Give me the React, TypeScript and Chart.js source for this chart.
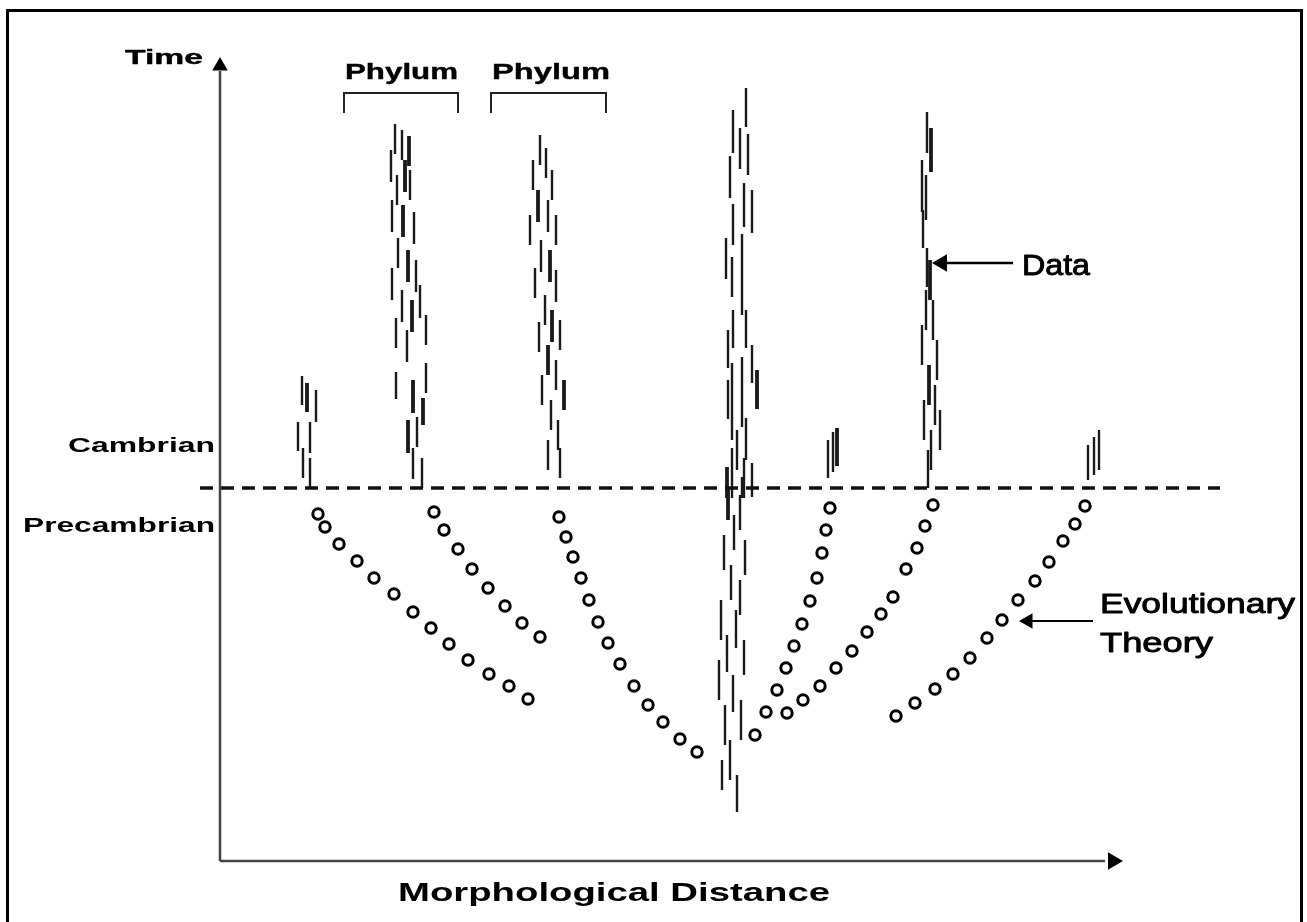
import React, { useEffect, useRef } from "react";
import { Chart, registerables } from "chart.js";
Chart.register(...registerables);

// Units: x = morphological distance, y = time, origin at the corner of the axes.

// "Evolutionary Theory" lineages: [distance, time]
const theoryA = [[98,347],[105,334],[119,317],[137,300],[154,283],[174,267],[193,249],[211,233],[229,217],[248,201],[269,187],[289,175],[308,162]];
const theoryB = [[214,349],[224,331],[238,312],[252,292],[268,273],[285,255],[302,238],[320,224]];
const theoryC = [[339,344],[346,324],[353,304],[361,283],[369,261],[378,239],[388,218],[400,197],[414,175],[428,156],[443,139],[460,122],[477,109]];
const theoryD = [[535,126],[546,149],[557,171],[566,193],[574,215],[582,237],[590,260],[597,283],[602,308],[606,331],[610,353]];
const theoryE = [[567,148],[583,161],[600,175],[616,193],[632,210],[647,229],[661,247],[673,264],[686,292],[697,313],[705,335],[713,356]];
const theoryF = [[676,145],[695,158],[715,172],[733,187],[750,203],[767,223],[782,241],[798,261],[815,280],[829,299],[843,320],[855,337],[865,355]];

// Fossil "Data" records: [distance, timeFrom, timeTo, heavy]
const dataA = [[82,456,485,0],[87,449,478,1],[96,439,471,0],[78,410,439,0],[90,408,439,0],[83,383,413,0],[90,373,403,0]];
const dataB = [[175,707,737,0],[182,701,731,0],[189,695,725,1],[171,679,711,0],[185,669,701,1],[177,656,686,0],[190,661,691,0],[172,629,661,0],[183,624,656,1],[194,617,649,0],[178,593,623,0],[188,579,611,1],[172,561,593,0],[196,569,601,0],[182,539,571,0],[192,529,561,1],[200,543,576,0],[176,513,543,0],[187,499,531,0],[206,516,546,0],[176,462,489,0],[193,448,481,1],[206,468,498,0],[203,436,463,1],[188,408,441,1],[197,414,444,0],[193,382,413,0],[202,373,403,0]];
const dataC = [[320,696,726,0],[326,683,713,0],[313,671,701,0],[332,661,691,0],[318,639,671,1],[328,629,661,0],[310,616,646,0],[336,616,646,0],[321,589,621,0],[330,579,611,1],[315,563,593,0],[336,559,591,0],[325,536,566,0],[332,519,551,1],[319,509,539,0],[340,511,541,0],[328,486,516,1],[336,471,501,0],[322,456,486,0],[344,451,481,1],[331,431,461,0],[338,411,441,0],[328,391,421,0],[340,383,413,0]];
const dataD = [[526,734,773,0],[513,708,751,0],[520,692,733,0],[528,686,727,0],[510,663,705,0],[524,634,678,0],[532,628,671,0],[513,616,657,0],[506,582,623,0],[522,546,627,0],[512,564,604,0],[513,513,551,0],[526,513,551,0],[508,493,531,0],[532,478,516,0],[522,434,504,0],[512,421,498,0],[508,442,481,0],[537,452,491,1],[526,401,443,0],[517,391,431,0],[512,363,413,0],[507,363,394,1],[524,363,403,0],[532,364,398,0],[522,363,384,0],[508,341,373,1],[520,331,366,0],[514,311,346,0],[504,291,326,0],[525,286,321,0],[511,261,296,0],[520,246,281,0],[501,221,261,0],[516,213,251,0],[507,189,226,0],[524,186,221,0],[499,161,201,0],[513,149,186,0],[521,121,161,0],[505,116,156,0],[510,81,121,0],[502,71,101,0],[517,49,86,0]];
const dataE = [[608,383,421,0],[613,389,429,0],[617,395,433,1]];
const dataF = [[707,708,749,0],[711,689,733,1],[702,649,701,0],[706,641,686,0],[703,613,651,0],[707,574,613,0],[710,561,601,1],[706,531,571,0],[713,521,561,0],[702,496,536,0],[717,481,521,0],[709,456,496,1],[715,436,476,0],[704,421,461,0],[720,411,451,0],[711,391,431,0],[708,373,411,0]];
const dataG = [[868,381,416,0],[874,386,424,0],[879,391,431,0]];

// Reference levels and axis extents
const cambrianBoundary = 373;
const boundaryFrom = -20;
const boundaryTo = 1000;
const timeAxisTop = 790;
const distanceAxisEnd = 885;

// Phylum brackets: [from, to, top, bottom]
const phylumBrackets = [[124, 238, 768, 748], [271, 386, 768, 748]];

type Label = { text: string; x: number; y: number; align: CanvasTextAlign; width: number; size: number; bold: boolean; weight: number };
const LABELS: Label[] = [
  { text: "Time", x: -95, y: 797, align: "left", width: 78, size: 20, bold: true, weight: 0.4 },
  { text: "Phylum", x: 125, y: 782, align: "left", width: 113, size: 22.5, bold: true, weight: 0.4 },
  { text: "Phylum", x: 272, y: 782, align: "left", width: 118, size: 22.5, bold: true, weight: 0.4 },
  { text: "Cambrian", x: -5, y: 409, align: "right", width: 147, size: 20, bold: true, weight: 0 },
  { text: "Precambrian", x: -5, y: 329, align: "right", width: 192, size: 21, bold: true, weight: 0 },
  { text: "Data", x: 802, y: 586, align: "left", width: 68, size: 29, bold: false, weight: 0.9 },
  { text: "Evolutionary", x: 880, y: 248, align: "left", width: 195, size: 28, bold: false, weight: 0.9 },
  { text: "Theory", x: 880, y: 209, align: "left", width: 113, size: 28, bold: false, weight: 0.9 },
  { text: "Morphological Distance", x: 178, y: -40, align: "left", width: 432, size: 25, bold: true, weight: 0 },
];

const FONT = '"Liberation Sans", Arial, Helvetica, sans-serif';

const framePlugin = {
  id: "frame",
  beforeDraw(chart: any) {
    const ctx = chart.ctx;
    ctx.save();
    ctx.fillStyle = "#fff";
    ctx.fillRect(0, 0, chart.width, chart.height);
    ctx.strokeStyle = "#000";
    ctx.lineWidth = 3;
    ctx.strokeRect(7.5, 10.5, 1294, 1000);
    ctx.restore();
  },
};

const labelPlugin = {
  id: "labels",
  afterDatasetsDraw(chart: any) {
    const { ctx } = chart;
    const xs = chart.scales.x;
    const ys = chart.scales.y;
    for (const l of LABELS) {
      ctx.save();
      ctx.font = `${l.bold ? "bold " : ""}${l.size}px ${FONT}`;
      const natural = ctx.measureText(l.text).width;
      const sx = l.width / natural;
      ctx.translate(xs.getPixelForValue(l.x), ys.getPixelForValue(l.y));
      ctx.scale(sx, 1);
      ctx.textAlign = l.align;
      ctx.textBaseline = "alphabetic";
      ctx.fillStyle = "#000";
      ctx.fillText(l.text, 0, 0);
      if (l.weight > 0) {
        ctx.strokeStyle = "#000";
        ctx.lineWidth = l.weight;
        ctx.lineJoin = "round";
        ctx.strokeText(l.text, 0, 0);
      }
      ctx.restore();
    }
  },
};

function theorySet(pts: number[][]) {
  return {
    type: "scatter",
    data: pts.map(([x, y]) => ({ x, y })),
    pointStyle: "circle",
    pointRadius: 5.2,
    pointBorderWidth: 3,
    pointBorderColor: "#000",
    pointBackgroundColor: "#fff",
    showLine: false,
    clip: false,
  };
}

function dashSet(rows: number[][]) {
  return {
    type: "scatter",
    data: rows.map(([x, lo, hi, w]) => ({ x, y: (lo + hi) / 2, lo, hi, w })),
    pointStyle: "line",
    rotation: 90,
    pointRadius: (c: any) => {
      const r = c.raw;
      if (!r) return 0;
      const ys = c.chart.scales.y;
      return Math.abs(ys.getPixelForValue(r.lo) - ys.getPixelForValue(r.hi)) / 2;
    },
    pointBorderWidth: (c: any) => (c.raw && c.raw.w ? 3.8 : 2.4),
    pointBorderColor: "#1a1a1a",
    pointBackgroundColor: "#1a1a1a",
    showLine: false,
    clip: false,
  };
}

function lineSet(pts: number[][], width: number, color: string, dash: number[] = []) {
  return {
    type: "line",
    data: pts.map(([x, y]) => ({ x, y })),
    borderColor: color,
    borderWidth: width,
    borderDash: dash,
    pointRadius: 0,
    fill: false,
    tension: 0,
    showLine: true,
    clip: false,
  };
}

function headSet(x: number, y: number, rot: number, r: number) {
  return {
    type: "scatter",
    data: [{ x, y }],
    pointStyle: "triangle",
    rotation: rot,
    pointRadius: r,
    pointBorderWidth: 0,
    pointBackgroundColor: "#000",
    pointBorderColor: "#000",
    showLine: false,
    clip: false,
  };
}

export default function App() {
  const ref = useRef<HTMLCanvasElement>(null);
  useEffect(() => {
    document.body.style.margin = "0";
    const datasets: any[] = [
      lineSet([[0, 0], [0, timeAxisTop]], 2.5, "#444"),
      lineSet([[0, 0], [distanceAxisEnd, 0]], 2.5, "#444"),
      headSet(0, timeAxisTop + 5, 0, 9),
      headSet(distanceAxisEnd + 8, 0, 90, 10),
      lineSet([[boundaryFrom, cambrianBoundary], [boundaryTo, cambrianBoundary]], 3.5, "#111", [13, 8]),
      ...phylumBrackets.map(([a, b, t, bt]) => lineSet([[a, bt], [a, t], [b, t], [b, bt]], 2, "#222")),
      lineSet([[722, 598], [793, 598]], 2.5, "#000"),
      headSet(722, 598, 270, 10),
      lineSet([[808, 240], [873, 240]], 2, "#000"),
      headSet(808, 240, 270, 9),
      ...[dataA, dataB, dataC, dataD, dataE, dataF, dataG].map(dashSet),
      ...[theoryA, theoryB, theoryC, theoryD, theoryE, theoryF].map(theorySet),
    ];
    const chart = new Chart(ref.current as HTMLCanvasElement, {
      type: "scatter",
      data: { datasets },
      options: {
        animation: false,
        responsive: false,
        devicePixelRatio: 1,
        layout: { padding: 0, autoPadding: false },
        events: [],
        plugins: { legend: { display: false }, tooltip: { enabled: false } },
        scales: {
          x: { type: "linear", min: -220, max: 1087, display: false },
          y: { type: "linear", min: -61, max: 861, display: false },
        },
      },
      plugins: [framePlugin, labelPlugin],
    } as any);
    return () => chart.destroy();
  }, []);
  return (
    <div style={{ width: 1307, height: 922 }}>
      <canvas ref={ref} width={1307} height={922} style={{ display: "block" }} />
    </div>
  );
}
